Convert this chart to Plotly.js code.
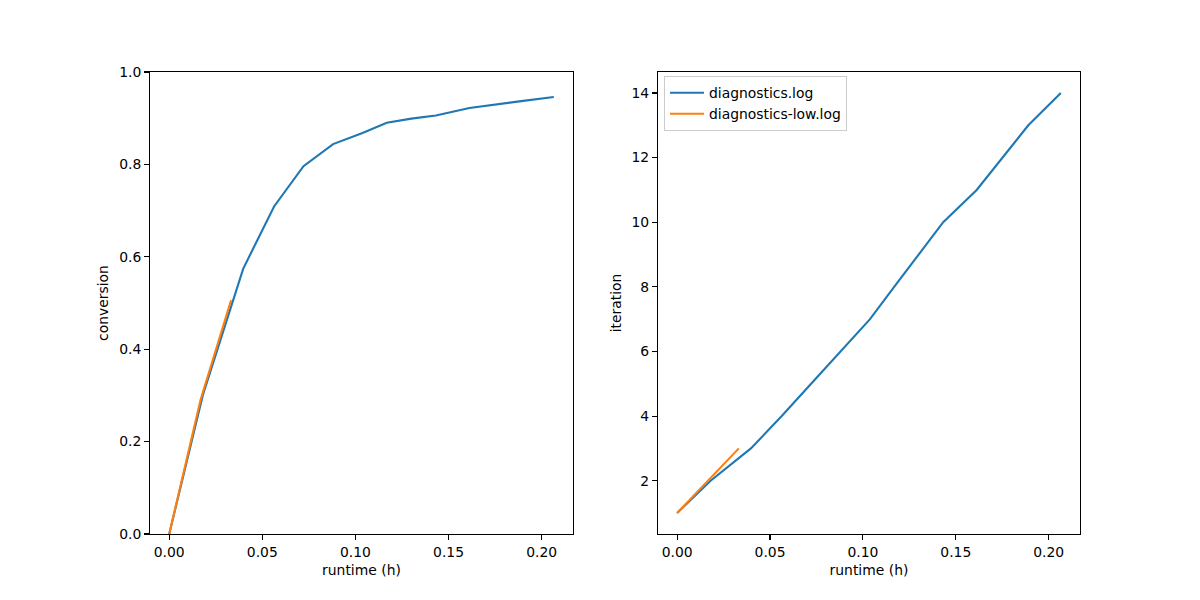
<!DOCTYPE html>
<html>
<head>
<meta charset="utf-8">
<script src="https://cdn.plot.ly/plotly-3.0.1.min.js"></script>
<style>html,body{margin:0;padding:0;background:#fff;}#chart{width:1200px;height:600px;}</style>
</head>
<body>
<div id="chart"></div>
<script>
const runtimeMain = [0, 0.0180, 0.0397, 0.0563, 0.0721, 0.0880, 0.1038, 0.1168, 0.1300, 0.1432, 0.1612, 0.1750, 0.1890, 0.2065];
const conversionMain = [0, 0.300, 0.574, 0.709, 0.796, 0.844, 0.868, 0.890, 0.899, 0.906, 0.922, 0.930, 0.937, 0.946];
const iterationMain = [1, 2, 3, 4, 5, 6, 7, 8, 9, 10, 11, 12, 13, 14];

const runtimeLow = [0, 0.0168, 0.0332];
const conversionLow = [0, 0.290, 0.506];
const iterationLow = [1, 2, 3];

const seriesNames = ["diagnostics.log", "diagnostics-low.log"];
const colors = ["#1f77b4", "#ff7f0e"];

const font = {family: "DejaVu Sans", size: 13.9, color: "#000"};
const lw = 2.1;

const traces = [
  {x: runtimeMain, y: conversionMain, mode: "lines", name: seriesNames[0], line: {color: colors[0], width: lw}, xaxis: "x", yaxis: "y", showlegend: false},
  {x: runtimeLow, y: conversionLow, mode: "lines", name: seriesNames[1], line: {color: colors[1], width: lw}, xaxis: "x", yaxis: "y", showlegend: false},
  {x: runtimeMain, y: iterationMain, mode: "lines", name: seriesNames[0], line: {color: colors[0], width: lw}, xaxis: "x2", yaxis: "y2"},
  {x: runtimeLow, y: iterationLow, mode: "lines", name: seriesNames[1], line: {color: colors[1], width: lw}, xaxis: "x2", yaxis: "y2"}
];

const axisCommon = {
  showline: true, mirror: true, linecolor: "#000", linewidth: 1.1,
  ticks: "outside", ticklen: 4.9, tickwidth: 1.1, tickcolor: "#000",
  showgrid: false, zeroline: false, tickfont: font
};

const xr = [-0.010325, 0.216825];

const layout = {
  width: 1200, height: 600,
  margin: {l: 0, r: 0, t: 0, b: 0},
  paper_bgcolor: "#fff", plot_bgcolor: "#fff",
  font: font,
  xaxis: Object.assign({}, axisCommon, {domain: [0.125, 0.4775], range: xr, dtick: 0.05, tick0: 0, tickformat: ".2f",
    title: {text: "runtime (h)", font: font, standoff: 6}, anchor: "y"}),
  yaxis: Object.assign({}, axisCommon, {domain: [0.11, 0.88], range: [0, 1], dtick: 0.2, tick0: 0, tickformat: ".1f",
    title: {text: "conversion", font: font, standoff: 7}, anchor: "x"}),
  xaxis2: Object.assign({}, axisCommon, {domain: [0.5483, 0.9], range: xr, dtick: 0.05, tick0: 0, tickformat: ".2f",
    title: {text: "runtime (h)", font: font, standoff: 6}, anchor: "y2"}),
  yaxis2: Object.assign({}, axisCommon, {domain: [0.11, 0.88], range: [0.35, 14.65], dtick: 2, tick0: 0,
    title: {text: "iteration", font: font, standoff: 6}, anchor: "x2"}),
  showlegend: true,
  legend: {x: 0.5533, y: 0.873, xanchor: "left", yanchor: "top", bgcolor: "rgba(255,255,255,0.8)",
    bordercolor: "#cccccc", borderwidth: 1, font: font, tracegroupgap: 0, itemwidth: 34}
};

Plotly.newPlot("chart", traces, layout, {displayModeBar: false, staticPlot: true});
</script>
</body>
</html>
